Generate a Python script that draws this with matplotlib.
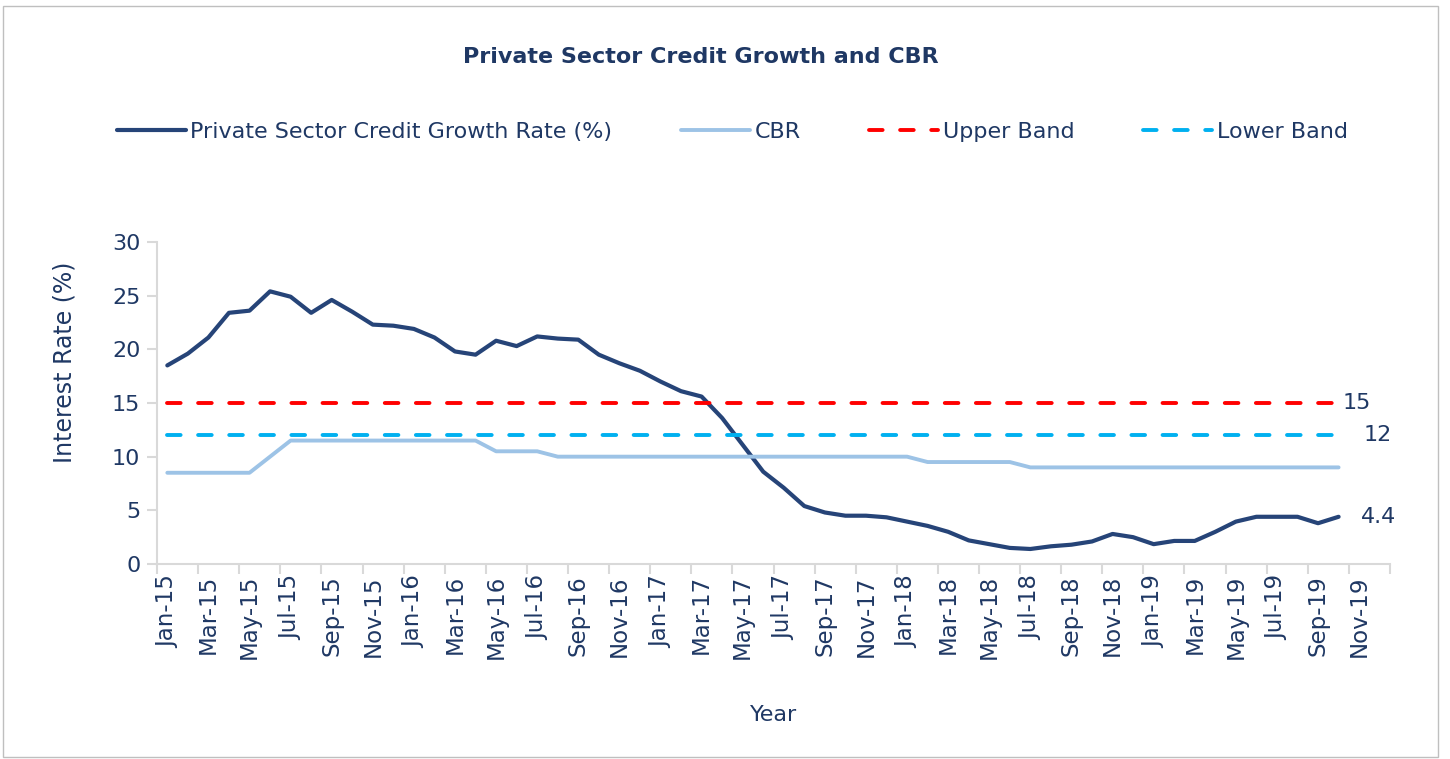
import matplotlib.pyplot as plt
from matplotlib.patches import Rectangle

# monthly categories Jan-15 .. Dec-19 on the axis, data runs to Oct-19
months = ['Jan', 'Feb', 'Mar', 'Apr', 'May', 'Jun',
          'Jul', 'Aug', 'Sep', 'Oct', 'Nov', 'Dec']
categories = [f'{m}-{y}' for y in range(15, 20) for m in months]

pscg = [18.5, 19.6, 21.1, 23.4, 23.6, 25.4, 24.9, 23.4, 24.6, 23.5, 22.3, 22.2,
        21.9, 21.1, 19.8, 19.5, 20.8, 20.3, 21.2, 21.0, 20.9, 19.5, 18.7, 18.0,
        17.0, 16.1, 15.6, 13.6, 11.1, 8.6, 7.1, 5.4, 4.8, 4.5, 4.5, 4.35,
        3.95, 3.55, 3.0, 2.2, 1.85, 1.5, 1.4, 1.65, 1.8, 2.1, 2.8, 2.5,
        1.85, 2.15, 2.15, 3.0, 3.95, 4.4, 4.4, 4.4, 3.8, 4.4]
cbr = [8.5, 8.5, 8.5, 8.5, 8.5, 10.0, 11.5, 11.5, 11.5, 11.5, 11.5, 11.5,
       11.5, 11.5, 11.5, 11.5, 10.5, 10.5, 10.5, 10.0, 10.0, 10.0, 10.0, 10.0,
       10.0, 10.0, 10.0, 10.0, 10.0, 10.0, 10.0, 10.0, 10.0, 10.0, 10.0, 10.0,
       10.0, 9.5, 9.5, 9.5, 9.5, 9.5, 9.0, 9.0, 9.0, 9.0, 9.0, 9.0,
       9.0, 9.0, 9.0, 9.0, 9.0, 9.0, 9.0, 9.0, 9.0, 9.0]
upper_band = [15] * len(pscg)
lower_band = [12] * len(pscg)

navy = '#1F3864'
plt.rcParams['font.family'] = ['DejaVu Sans']

fig = plt.figure(figsize=(14.5, 7.59), dpi=100)
ax = fig.add_axes([0.1083, 0.2569, 0.8503, 0.4243])

x = list(range(len(pscg)))
l1, = ax.plot(x, pscg, color='#264478', lw=3, solid_capstyle='round',
              solid_joinstyle='round', label='Private Sector Credit Growth Rate (%)')
l2, = ax.plot(x, cbr, color='#9DC3E6', lw=2.8, solid_capstyle='round',
              label='CBR')
l3, = ax.plot(x, upper_band, color='#FF0000', lw=2.8, dashes=(3.5, 4.5),
              dash_capstyle='round', label='Upper Band')
l4, = ax.plot(x, lower_band, color='#00B0F0', lw=2.8, dashes=(3.5, 4.5),
              dash_capstyle='round', label='Lower Band')

# data labels at the last point
last = len(pscg) - 1
for series, dx in [(upper_band, 0.2), (lower_band, 1.2), (pscg, 1.1)]:
    ax.annotate(f'{series[-1]:g}', (last, series[-1]), xytext=(dx * 20.6, 0),
                textcoords='offset pixels', va='center', ha='left',
                fontsize=16, color=navy)

ax.set_xlim(-0.5, len(categories) - 0.5)
ax.set_ylim(0, 30)
ax.set_yticks(range(0, 31, 5))
ax.set_xticks(range(0, len(categories), 2))
ax.set_xticklabels(categories[::2], rotation=90)
ax.set_xticks([i - 0.5 for i in range(0, len(categories) + 1, 2)], minor=True)
ax.tick_params(axis='x', which='major', length=0, pad=8, labelsize=16.5,
               labelcolor=navy)
ax.tick_params(axis='x', which='minor', length=7, color='#D9D9D9', width=1.5)
ax.tick_params(axis='y', length=7, color='#D9D9D9', width=1.5, labelsize=16,
               labelcolor=navy, pad=5)

for side in ['top', 'right']:
    ax.spines[side].set_visible(False)
for side in ['left', 'bottom']:
    ax.spines[side].set_color('#D9D9D9')
    ax.spines[side].set_linewidth(1.5)

ax.set_ylabel('Interest Rate (%)', fontsize=17, color=navy)
ax.yaxis.set_label_coords(-0.065, 0.627)
ax.set_xlabel('Year', fontsize=16, color=navy, labelpad=33)

fig.text(0.483, 0.925, 'Private Sector Credit Growth and CBR', ha='center',
         va='center', fontsize=16, fontweight='bold', color=navy)

fig.legend(handles=[l1, l2, l3, l4], loc='center', bbox_to_anchor=(0.505, 0.826),
           ncol=4, frameon=False, fontsize=16, handlelength=3.1,
           handletextpad=0.2, columnspacing=3.1, labelcolor=navy)

fig.patches.append(Rectangle((0.002, 0.002), 0.99, 0.99, transform=fig.transFigure,
                             fill=False, edgecolor='#BFBFBF', lw=1))

fig.savefig('out.png', dpi=100)
